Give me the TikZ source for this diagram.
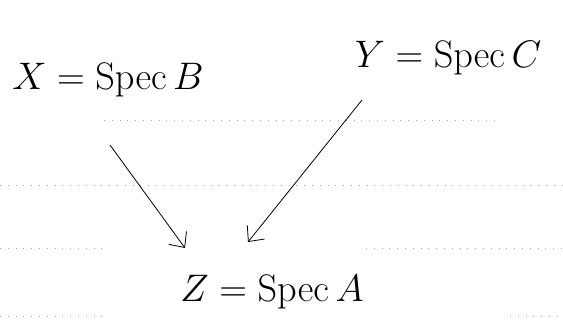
\documentclass[tikz,border=0pt]{standalone}
\usetikzlibrary{arrows.meta,calc}
\begin{document}
\begin{tikzpicture}[x=1pt,y=-1pt,
  lbl/.style={inner sep=0pt,font=\huge,scale=1.85},
  rule/.style={gray!70,line width=0.8pt,dash pattern=on 0.8pt off 7pt},
  arr/.style={line width=0.8pt,-{Straight Barb[length=12pt,width=22pt]}}]
\useasboundingbox (0,0) rectangle (563,328);
% ruled notebook lines
\draw[rule] (104,120) -- (495,120);
\draw[rule] (0,185) -- (563,185);
\draw[rule] (0,248) -- (108,248);
\draw[rule] (366,248) -- (563,248);
\draw[rule] (0,316) -- (108,316);
\draw[rule] (510,316) -- (563,316);
% labels
\node[lbl] (X) at (108,80) {$X = \mathrm{Spec}\,B$};
\node[lbl] (Y) at (448,58) {$Y = \mathrm{Spec}\,C$};
\node[lbl] (Z) at (272,292) {$Z = \mathrm{Spec}\,A$};
% arrows
\draw[arr] ($(X.center)+(2,65)$) -- ($(Z.center)+(-87,-44)$);
\draw[arr] ($(Y.center)+(-86,42)$) -- ($(Z.center)+(-24,-50)$);
\end{tikzpicture}
\end{document}
